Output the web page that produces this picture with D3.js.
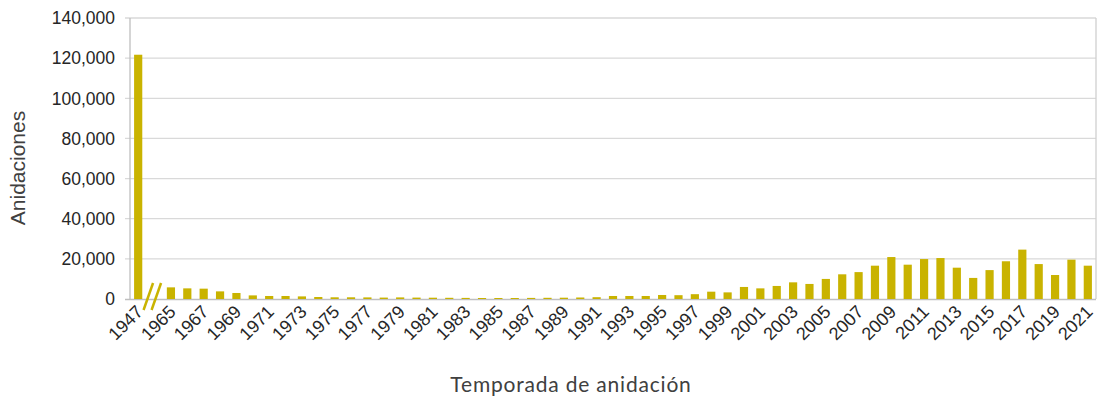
<!DOCTYPE html>
<html>
<head>
<meta charset="utf-8">
<script src="https://cdn.jsdelivr.net/npm/d3@7"></script>
<style>
  body { margin: 0; background: #fff; }
  svg text { font-family: "Liberation Sans", Arial, sans-serif; fill: #262626; }
</style>
</head>
<body>
<script>
// temporadas: 1947, salto, 1965-2021
var years = ["1947", "gap", "1965", "1966", "1967", "1968", "1969", "1970", "1971", "1972",
  "1973", "1974", "1975", "1976", "1977", "1978", "1979", "1980", "1981", "1982",
  "1983", "1984", "1985", "1986", "1987", "1988", "1989", "1990", "1991", "1992",
  "1993", "1994", "1995", "1996", "1997", "1998", "1999", "2000", "2001", "2002",
  "2003", "2004", "2005", "2006", "2007", "2008", "2009", "2010", "2011", "2012",
  "2013", "2014", "2015", "2016", "2017", "2018", "2019", "2020", "2021"];

var nests = [121700, null, 5800, 5300, 5150, 3800, 3000, 1800, 1500, 1500,
  1300, 1000, 850, 850, 800, 700, 800, 700, 650, 600,
  550, 500, 500, 500, 550, 600, 650, 750, 900, 1500,
  1500, 1500, 2000, 1900, 2400, 3650, 3300, 6000, 5300, 6500,
  8300, 7500, 10000, 12300, 13400, 16600, 20900, 17100, 19900, 20400,
  15600, 10500, 14400, 18800, 24600, 17400, 11950, 19600, 16600];

var yTicks = [0, 20000, 40000, 60000, 80000, 100000, 120000, 140000];

var W = 1105, H = 400;
var plotL = 130, plotR = 1096, plotT = 18, plotB = 299;
var barColor = "#c9b300";

var svg = d3.select("body").append("svg")
  .attr("width", W).attr("height", H);

var x = d3.scaleBand().domain(years).range([plotL, plotR]).paddingInner(0.5).paddingOuter(0.25);
var y = d3.scaleLinear().domain([0, 140000]).range([plotB, plotT]);

// grid
svg.append("g").selectAll("line").data(yTicks.slice(1)).enter().append("line")
  .attr("x1", plotL - 5).attr("x2", plotR)
  .attr("y1", function(d){ return y(d); }).attr("y2", function(d){ return y(d); })
  .style("stroke", "#d9d9d9").style("stroke-width", 1.3);

// frame
svg.append("line").attr("x1", plotL).attr("x2", plotL).attr("y1", plotT).attr("y2", plotB)
  .style("stroke", "#bfbfbf").style("stroke-width", 1.3);
svg.append("line").attr("x1", plotR).attr("x2", plotR).attr("y1", plotT).attr("y2", plotB)
  .style("stroke", "#d0d0d0").style("stroke-width", 1.3);

// baseline
svg.append("line").attr("x1", plotL - 5).attr("x2", plotR).attr("y1", plotB + 0.5).attr("y2", plotB + 0.5)
  .style("stroke", "#bfbfbf").style("stroke-width", 1.3);

// bars
svg.append("g").selectAll("rect").data(years.filter(function(d, i){ return nests[i] != null; }))
  .enter().append("rect")
  .attr("x", function(d){ return x(d); })
  .attr("width", x.bandwidth())
  .attr("y", function(d){ return y(nests[years.indexOf(d)]); })
  .attr("height", function(d){ return plotB - y(nests[years.indexOf(d)]); })
  .style("fill", barColor);

// axis break marks
var gx = x("gap") + x.bandwidth() / 2;
svg.append("g").selectAll("line").data([-11, -3]).enter().append("line")
  .attr("x1", function(d){ return gx + d; }).attr("y1", 310)
  .attr("x2", function(d){ return gx + d + 9.5; }).attr("y2", 283)
  .style("stroke", barColor).style("stroke-width", 2.5);

// y tick labels
svg.append("g").selectAll("text").data(yTicks).enter().append("text")
  .attr("x", 115).attr("y", function(d){ return y(d); })
  .attr("dy", "0.36em")
  .attr("text-anchor", "end")
  .style("font-size", "17.5px")
  .text(function(d){ return d3.format(",")(d); });

// x tick labels (every other season)
var labelYears = years.filter(function(d){ return d !== "gap" && (d === "1947" || (+d - 1965) % 2 === 0); });
svg.append("g").selectAll("text").data(labelYears).enter().append("text")
  .attr("transform", function(d){
    return "translate(" + (x(d) + x.bandwidth() / 2 + 6) + "," + 313 + ") rotate(-45)";
  })
  .attr("text-anchor", "end")
  .style("font-size", "18px")
  .text(function(d){ return d; });

// axis titles
svg.append("text")
  .attr("transform", "translate(25,168) rotate(-90)")
  .attr("text-anchor", "middle")
  .style("font-size", "21px")
  .style("fill", "#404040")
  .text("Anidaciones");

svg.append("text")
  .attr("x", 571).attr("y", 392)
  .attr("text-anchor", "middle")
  .style("font-family", "Lato, 'Open Sans', sans-serif")
  .style("font-size", "21px")
  .style("fill", "#404040")
  .style("letter-spacing", "0.8px")
  .text("Temporada de anidación");
</script>
</body>
</html>
